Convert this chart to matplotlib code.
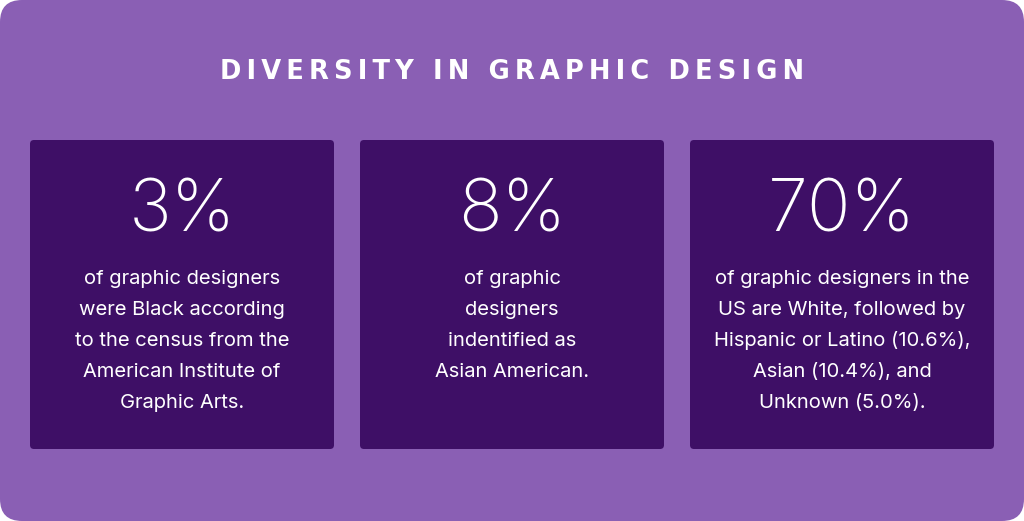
import matplotlib.pyplot as plt
from matplotlib.patches import FancyBboxPatch

title = "DIVERSITY IN GRAPHIC DESIGN"
stats = ["3%", "8%", "70%"]
notes = [
    ["of graphic designers", "were Black according", "to the census from the",
     "American Institute of", "Graphic Arts."],
    ["of graphic", "designers", "indentified as", "Asian American."],
    ["of graphic designers in the", "US are White, followed by",
     "Hispanic or Latino (10.6%),", "Asian (10.4%), and", "Unknown (5.0%)."],
]

bg = "#8A5FB4"
card = "#3E0F66"

fig = plt.figure(figsize=(10.24, 5.21), dpi=100)
ax = fig.add_axes([0, 0, 1, 1])
ax.set_xlim(0, 1024)
ax.set_ylim(521, 0)
ax.axis("off")

ax.add_patch(FancyBboxPatch((0, 0), 1024, 521, boxstyle="round,pad=0,rounding_size=22",
                            fc=bg, ec="none"))
ax.text(512, 72, "\u2009".join(title), color="white", fontsize=18.5, fontweight="bold",
        ha="center", va="center", family="DejaVu Sans")

for i, (s, lines) in enumerate(zip(stats, notes)):
    x0 = 30 + i * 330
    ax.add_patch(FancyBboxPatch((x0, 140), 304, 309, boxstyle="round,pad=0,rounding_size=4",
                                fc=card, ec="none"))
    cx = x0 + 152
    ax.text(cx, 212, s, color="white", fontsize=52, ha="center", va="center",
            family="Inter", fontweight="light")
    for j, ln in enumerate(lines):
        ax.text(cx, 279 + j * 31, ln, color="white", fontsize=14.5, ha="center",
                va="center", family="Inter")

fig.savefig("out.png", dpi=100, transparent=False, facecolor="white")
